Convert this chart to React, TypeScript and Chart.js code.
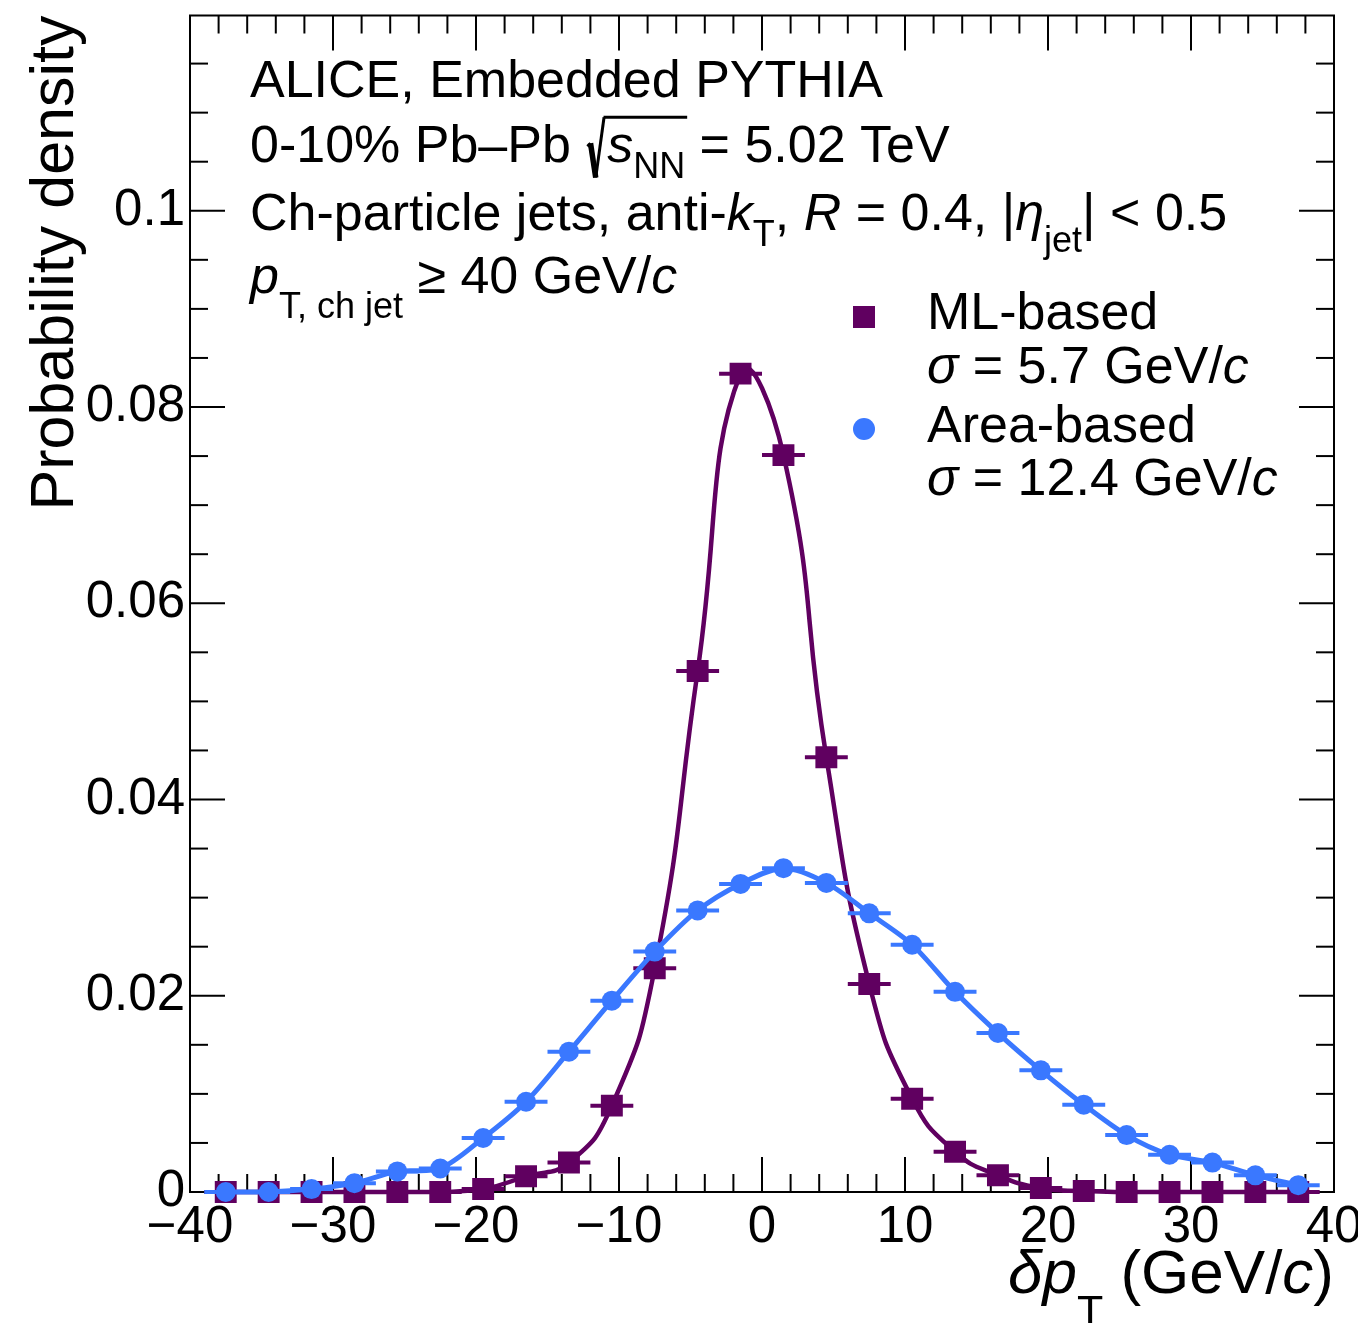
import React, { useEffect, useRef } from 'react';
import { Chart, registerables } from 'chart.js';

Chart.register(...registerables);

// ---------------- data ----------------
const binCenters = [-37.5, -34.5, -31.5, -28.5, -25.5, -22.5, -19.5, -16.5, -13.5, -10.5, -7.5, -4.5, -1.5, 1.5, 4.5, 7.5, 10.5, 13.5, 16.5, 19.5, 22.5, 25.5, 28.5, 31.5, 34.5, 37.5];
const binHalfWidths = [1.5, 1.5, 1.5, 1.5, 1.5, 1.5, 1.5, 1.5, 1.5, 1.5, 1.5, 1.5, 1.5, 1.5, 1.5, 1.5, 1.5, 1.5, 1.5, 1.5, 1.5, 1.5, 1.5, 1.5, 1.5, 1.5];
const mlValues = [0, 0, 0, 0, 0, 0, 0.0003, 0.0016, 0.0030, 0.0088, 0.0228, 0.0531, 0.0834, 0.0751, 0.0443, 0.0212, 0.0095, 0.0041, 0.0017, 0.0004, 0.0001, 0, 0, 0, 0, 0];
const areaValues = [0, 0, 0.0003, 0.0009, 0.0021, 0.0024, 0.0055, 0.0092, 0.0143, 0.0195, 0.0245, 0.0287, 0.0314, 0.0330, 0.0315, 0.0284, 0.0252, 0.0204, 0.0162, 0.0124, 0.0089, 0.0058, 0.0038, 0.0030, 0.0017, 0.0007];

const xTickValues = [-40, -30, -20, -10, 0, 10, 20, 30, 40];
const yTickValues = [0, 0.02, 0.04, 0.06, 0.08, 0.1];
const xMinorStep = 2;
const yMinorStep = 0.005;

const seriesNames = ['ML-based', 'Area-based'];
const seriesSigma = ['5.7', '12.4'];
const yTitle = 'Probability density';

// ---------------- style ----------------
const FONT = '"Liberation Sans", Arial, Helvetica, sans-serif';
const PURPLE = '#600060';
const BLUE = '#3a78ff';
const TEXT_SIZE = 52;

type Run = { t: string; it?: boolean; s?: number; dy?: number; over?: boolean; rad?: boolean };

const annotationLines: Run[][] = [
  [{ t: 'ALICE, Embedded PYTHIA' }],
  [{ t: '0-10% Pb\u2013Pb ' }, { t: '\u221A', rad: true }, { t: 's', it: true, over: true }, { t: 'NN', s: 0.7, dy: 16, over: true }, { t: ' = 5.02 TeV' }],
  [{ t: 'Ch-particle jets, anti-' }, { t: 'k', it: true }, { t: 'T', s: 0.7, dy: 16 }, { t: ', ' }, { t: 'R', it: true }, { t: ' = 0.4, |' }, { t: '\u03B7', it: true }, { t: 'jet', s: 0.7, dy: 22 }, { t: '| < 0.5' }],
  [{ t: 'p', it: true }, { t: 'T, ch jet', s: 0.7, dy: 25 }, { t: ' \u2265 40 GeV/' }, { t: 'c', it: true }],
];
const annotationBaselines = [97, 162, 230, 293];

const xTitleRuns: Run[] = [{ t: '\u03B4', it: true }, { t: 'p', it: true }, { t: 'T', s: 0.7, dy: 32 }, { t: ' (GeV/' }, { t: 'c', it: true }, { t: ')' }];

function drawRuns(ctx: CanvasRenderingContext2D, runs: Run[], x: number, y: number, size: number, align: 'left' | 'right' = 'left') {
  const fontOf = (r: Run) => `${r.it ? 'italic ' : ''}${Math.round(size * (r.s ?? 1))}px ${FONT}`;
  const widths = runs.map((r) => {
    if (r.rad) return size * 0.42;
    ctx.font = fontOf(r);
    return ctx.measureText(r.t).width;
  });
  const total = widths.reduce((a, b) => a + b, 0);
  let cx = align === 'right' ? x - total : x;
  ctx.textAlign = 'left';
  ctx.textBaseline = 'alphabetic';
  ctx.fillStyle = '#000';
  ctx.strokeStyle = '#000';
  let o0: number | null = null;
  let o1 = 0;
  const topY = y - size * 0.86;
  runs.forEach((r, i) => {
    if (r.rad) {
      // radical sign drawn as a path
      ctx.beginPath();
      ctx.lineJoin = 'miter';
      ctx.lineWidth = 3;
      ctx.moveTo(cx + size * 0.04, y - size * 0.3);
      ctx.lineTo(cx + size * 0.1, y - size * 0.36);
      ctx.stroke();
      ctx.beginPath();
      ctx.lineWidth = 5.5;
      ctx.moveTo(cx + size * 0.1, y - size * 0.36);
      ctx.lineTo(cx + size * 0.2, y + size * 0.3);
      ctx.stroke();
      ctx.beginPath();
      ctx.lineWidth = 3;
      ctx.moveTo(cx + size * 0.2, y + size * 0.3);
      ctx.lineTo(cx + size * 0.36, topY);
      ctx.stroke();
    } else {
      ctx.font = fontOf(r);
      ctx.fillText(r.t, cx, y + (r.dy ?? 0));
    }
    if (r.over) {
      if (o0 === null) o0 = cx;
      o1 = cx + widths[i];
    }
    cx += widths[i];
  });
  if (o0 !== null) {
    ctx.beginPath();
    ctx.lineWidth = 3;
    ctx.moveTo(o0 - size * 0.07, topY);
    ctx.lineTo(o1 + 2, topY);
    ctx.stroke();
  }
}

const framePlugin = {
  id: 'rootFrame',
  beforeDatasetsDraw(chart: any) {
    const { ctx, chartArea: a, scales } = chart;
    const xs = scales.x;
    const ys = scales.y;
    ctx.save();
    ctx.strokeStyle = '#000';
    ctx.lineWidth = 2;
    ctx.strokeRect(a.left, a.top, a.right - a.left, a.bottom - a.top);
    const MAJ = 35;
    const MIN = 18;
    const line = (x0: number, y0: number, x1: number, y1: number) => {
      ctx.beginPath();
      ctx.moveTo(x0, y0);
      ctx.lineTo(x1, y1);
      ctx.stroke();
    };
    for (let v = xs.min; v <= xs.max + 1e-9; v += xMinorStep) {
      const px = xs.getPixelForValue(v);
      const major = xTickValues.some((t) => Math.abs(t - v) < 1e-6);
      const len = major ? MAJ : MIN;
      line(px, a.bottom, px, a.bottom - len);
      line(px, a.top, px, a.top + len);
    }
    for (let v = 0; v <= ys.max + 1e-9; v += yMinorStep) {
      const py = ys.getPixelForValue(v);
      const major = yTickValues.some((t) => Math.abs(t - v) < 1e-6);
      const len = major ? MAJ : MIN;
      line(a.left, py, a.left + len, py);
      line(a.right, py, a.right - len, py);
    }
    ctx.restore();
  },
  beforeDatasetDraw(chart: any, args: any) {
    const { ctx, chartArea: a, scales } = chart;
    const ds = chart.data.datasets[args.index];
    const vals: number[] = ds.data.map((p: any) => p.y);
    ctx.save();
    ctx.beginPath();
    ctx.rect(a.left, a.top, a.right - a.left, a.bottom - a.top + 12);
    ctx.clip();
    ctx.strokeStyle = ds.borderColor;
    ctx.lineWidth = 4;
    binCenters.forEach((c, i) => {
      const y = scales.y.getPixelForValue(vals[i]);
      ctx.beginPath();
      ctx.moveTo(scales.x.getPixelForValue(c - binHalfWidths[i]), y);
      ctx.lineTo(scales.x.getPixelForValue(c + binHalfWidths[i]), y);
      ctx.stroke();
    });
    ctx.restore();
  },
  afterDraw(chart: any) {
    const { ctx } = chart;
    ctx.save();
    annotationLines.forEach((runs, i) => drawRuns(ctx, runs, 250, annotationBaselines[i], TEXT_SIZE));
    const ds = chart.data.datasets;
    ctx.fillStyle = ds[0].backgroundColor;
    ctx.fillRect(864 - 11, 317 - 11, 22, 22);
    ctx.fillStyle = ds[1].backgroundColor;
    ctx.beginPath();
    ctx.arc(864, 429, 11, 0, Math.PI * 2);
    ctx.fill();
    drawRuns(ctx, [{ t: seriesNames[0] }], 927, 329, TEXT_SIZE);
    drawRuns(ctx, [{ t: '\u03C3', it: true }, { t: ` = ${seriesSigma[0]} GeV/` }, { t: 'c', it: true }], 927, 383, TEXT_SIZE);
    drawRuns(ctx, [{ t: seriesNames[1] }], 927, 442, TEXT_SIZE);
    drawRuns(ctx, [{ t: '\u03C3', it: true }, { t: ` = ${seriesSigma[1]} GeV/` }, { t: 'c', it: true }], 927, 495, TEXT_SIZE);
    drawRuns(ctx, xTitleRuns, 1334, 1293, 62, 'right');
    ctx.restore();
  },
};

const fmtX = (v: number) => (v < 0 ? '\u2212' + Math.abs(v) : String(v));
const fmtY = (v: number) => String(+v.toFixed(3));

export default function App() {
  const ref = useRef<HTMLCanvasElement | null>(null);
  useEffect(() => {
    if (!ref.current) return;
    const chart = new Chart(ref.current, {
      type: 'line',
      data: {
        datasets: [
          {
            label: seriesNames[0],
            data: binCenters.map((x, i) => ({ x, y: mlValues[i] })),
            borderColor: PURPLE,
            backgroundColor: PURPLE,
            borderWidth: 4.5,
            tension: 0.5,
            pointStyle: 'rect',
            pointRadius: 15.5,
            pointBorderWidth: 0,
            pointBackgroundColor: PURPLE,
            order: 2,
            clip: 14,
          },
          {
            label: seriesNames[1],
            data: binCenters.map((x, i) => ({ x, y: areaValues[i] })),
            borderColor: BLUE,
            backgroundColor: BLUE,
            borderWidth: 5,
            tension: 0.3,
            pointStyle: 'circle',
            pointRadius: 10,
            pointBorderWidth: 0,
            pointBackgroundColor: BLUE,
            order: 1,
            clip: 14,
          },
        ] as any,
      },
      options: {
        responsive: false,
        animation: false,
        events: [],
        layout: { padding: { left: 0, right: 24, top: 15, bottom: 0 } },
        plugins: { legend: { display: false }, tooltip: { enabled: false } },
        scales: {
          x: {
            type: 'linear',
            min: -40,
            max: 40,
            grid: { display: false, drawTicks: false, tickLength: 0 },
            border: { display: false },
            afterBuildTicks: (s: any) => {
              s.ticks = xTickValues.map((v) => ({ value: v }));
            },
            afterFit: (s: any) => {
              s.height = 131;
              s.paddingLeft = 0;
              s.paddingRight = 0;
            },
            ticks: {
              color: '#000',
              font: { family: FONT, size: 51 },
              padding: 5,
              maxRotation: 0,
              autoSkip: false,
              callback: (v: any) => fmtX(Number(v)),
            },
          },
          y: {
            type: 'linear',
            min: 0,
            max: 0.1199,
            grid: { display: false, drawTicks: false, tickLength: 0 },
            border: { display: false },
            afterBuildTicks: (s: any) => {
              s.ticks = yTickValues.map((v) => ({ value: v }));
            },
            afterFit: (s: any) => {
              s.width = 190;
              s.paddingTop = 0;
              s.paddingBottom = 0;
            },
            ticks: {
              color: '#000',
              font: { family: FONT, size: 51 },
              padding: 5,
              callback: (v: any) => fmtY(Number(v)),
            },
            title: {
              display: true,
              text: yTitle,
              align: 'end',
              color: '#000',
              font: { family: FONT, size: 61 },
              padding: { top: 20, bottom: 0 },
            },
          },
        },
      } as any,
      plugins: [framePlugin],
    });
    return () => chart.destroy();
  }, []);
  return (
    <div style={{ position: 'absolute', left: 0, top: 0, width: 1358, height: 1323, background: '#fff' }}>
      <canvas ref={ref} width={1358} height={1323} style={{ display: 'block' }} />
    </div>
  );
}
